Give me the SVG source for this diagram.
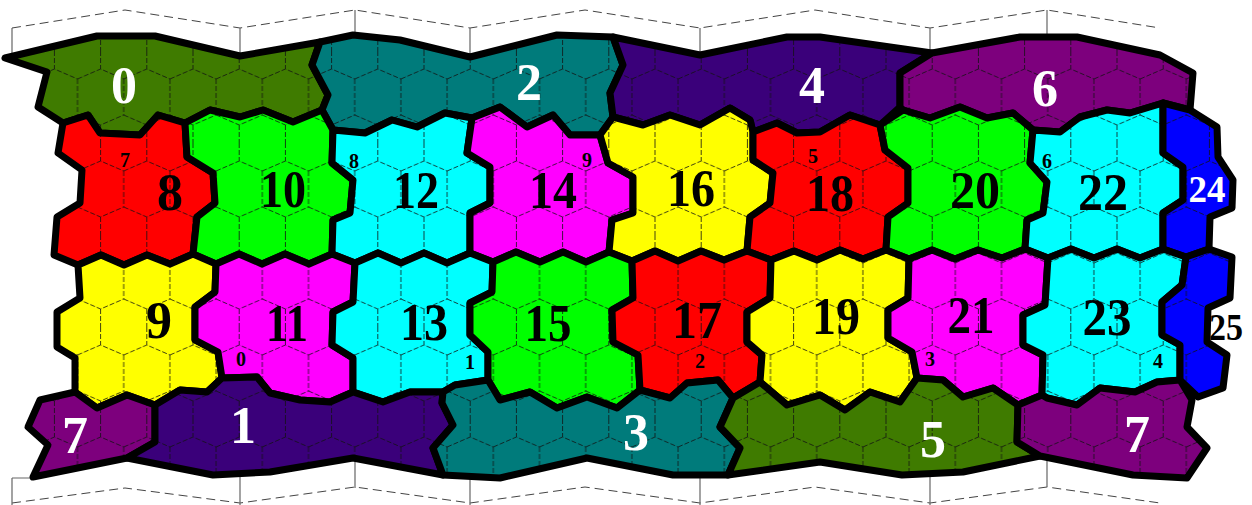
<svg xmlns="http://www.w3.org/2000/svg" xmlns:xlink="http://www.w3.org/1999/xlink" width="1252" height="505" viewBox="0 0 1252 505">
<style>
.b{fill:none;stroke:#000;stroke-width:7;stroke-linejoin:round}
.h{fill:url(#hex)}
.red{fill:#ff0000}.grn{fill:#00ff00}.cya{fill:#00ffff}.mag{fill:#ff00ff}.yel{fill:#ffff00}.blu{fill:#0000ff}
.olv{fill:#3f7b00}.tea{fill:#007b7b}.ind{fill:#3a007a}.pur{fill:#7d007d}
.L{font-family:"Liberation Serif","Times New Roman",serif;font-weight:bold;text-anchor:middle;fill:#000}
.big{font-size:52px}.mid{font-size:38px}.sm{font-size:20px}.w{fill:#fff}
.fd{fill:none;stroke:#444;stroke-width:1;stroke-dasharray:9 5}
.fv{fill:none;stroke:#666;stroke-width:1.2}
</style>
<defs>
<pattern id="hex" patternUnits="userSpaceOnUse" x="77.5" y="235" width="46.2" height="92">
<path d="M23.1,0V18M0,28L23.1,18L46.2,28M0,28V64M46.2,28V64M0,64L23.1,74L46.2,64M23.1,74V92" fill="none" stroke="#111" stroke-width="0.8" stroke-dasharray="5 2"/>
</pattern>
<polygon id="s0" points="5,58 97,36 155,36 240,56 320,42 312,65 328,95 322,110 293,122 263,110 240,117 210,110 185,123 158,115 140,135 100,133 88,115 63,123 38,107 47,72"/>
<polygon id="s2" points="320,42 353,35 400,40 470,57 557,35 613,37 623,65 610,93 613,117 600,135 570,135 553,115 527,127 500,107 472,118 445,113 417,127 392,120 365,133 333,130 322,110 328,95 312,65"/>
<polygon id="s4" points="613,37 700,55 787,37 820,37 932,53 900,73 900,107 880,125 850,115 820,132 797,133 777,123 753,132 750,120 730,108 700,125 670,115 643,125 613,117 610,93 623,65"/>
<polygon id="s6" points="932,53 1020,37 1077,37 1160,55 1193,73 1190,110 1163,103 1130,113 1107,110 1080,117 1060,132 1033,130 1013,113 987,118 960,107 930,118 903,110 900,107 900,73"/>
<polygon id="s8" points="63,123 88,115 100,133 140,135 158,115 185,123 187,157 213,173 215,203 197,217 193,254 170,264 147,255 124,265 101,255 78,265 54,255 57,217 80,203 82,170 58,153"/>
<polygon id="s10" points="185,123 210,110 240,117 263,110 293,122 322,110 333,130 332,163 353,180 350,213 333,220 332,254 309,264 285,254 262,264 239,254 216,264 193,254 197,217 215,203 213,173 187,157"/>
<polygon id="s12" points="333,130 365,133 392,120 417,127 445,113 472,118 467,153 490,167 490,203 470,213 470,253 447,263 424,253 401,263 378,253 355,263 332,254 333,220 350,213 353,180 332,163"/>
<polygon id="s14" points="472,118 500,107 527,127 553,115 570,135 600,135 608,163 633,177 633,213 612,220 609,252 586,262 563,252 540,262 516,252 493,262 470,253 470,213 490,203 490,167 467,153"/>
<polygon id="s16" points="600,135 613,117 643,125 670,115 700,125 730,108 750,120 753,132 753,160 773,173 770,203 750,217 747,251 724,260 701,251 678,261 655,251 632,261 609,252 612,220 633,213 633,177 608,163"/>
<polygon id="s18" points="753,132 777,123 797,133 820,132 850,115 880,125 885,150 908,168 908,203 888,217 886,250 863,259 840,250 817,260 794,251 771,260 747,251 750,217 770,203 773,173 753,160"/>
<polygon id="s20" points="880,125 903,110 930,118 960,107 987,118 1013,113 1033,130 1030,163 1047,182 1043,213 1027,220 1025,249 1002,258 978,250 955,259 932,250 909,259 886,250 888,217 908,203 908,168 885,150"/>
<polygon id="s22" points="1033,130 1060,132 1080,117 1107,110 1130,113 1163,103 1163,153 1183,167 1183,200 1163,213 1163,249 1140,258 1117,249 1094,258 1071,249 1048,258 1025,249 1027,220 1043,213 1047,182 1030,163"/>
<polygon id="s24" points="1163,103 1190,110 1217,127 1218,157 1233,180 1232,208 1210,217 1209,249 1186,257 1163,249 1163,213 1183,200 1183,167 1163,153"/>
<polygon id="s9" points="78,265 101,255 124,265 147,255 170,264 193,254 216,264 215,292 195,307 195,340 218,352 222,378 207,392 180,390 155,405 127,395 97,408 75,392 75,358 57,347 57,312 80,298"/>
<polygon id="s11" points="216,264 239,254 262,264 285,254 309,264 332,254 355,263 353,302 333,312 332,345 353,358 353,392 330,402 300,400 270,393 257,377 222,378 218,352 195,340 195,307 215,292"/>
<polygon id="s13" points="355,263 378,253 401,263 424,253 447,263 470,253 493,262 492,292 470,303 470,335 488,352 488,380 455,385 443,392 410,392 383,402 353,392 353,358 332,345 333,312 353,302"/>
<polygon id="s15" points="493,262 516,252 540,262 563,252 586,262 609,252 632,261 633,298 612,310 613,342 638,355 640,390 617,408 587,397 557,408 530,392 500,400 488,380 488,352 470,335 470,303 492,292"/>
<polygon id="s17" points="632,261 655,251 678,261 701,251 724,260 747,251 771,260 770,298 747,312 747,342 762,355 760,382 733,398 718,380 687,383 670,398 640,390 638,355 613,342 612,310 633,298"/>
<polygon id="s19" points="771,260 794,251 817,260 840,250 863,259 886,250 909,259 908,298 888,310 888,338 912,352 917,378 900,402 870,392 845,410 820,395 787,405 760,382 762,355 747,342 747,312 770,298"/>
<polygon id="s21" points="909,259 932,250 955,259 978,250 1002,258 1025,249 1048,258 1045,305 1023,315 1023,345 1043,355 1042,395 1018,405 993,388 963,397 943,380 917,378 912,352 888,338 888,310 908,298"/>
<polygon id="s23" points="1048,258 1071,249 1094,258 1117,249 1140,258 1163,249 1186,257 1182,285 1162,302 1162,335 1180,345 1180,380 1157,382 1135,392 1100,388 1077,405 1047,398 1042,395 1043,355 1023,345 1023,315 1045,305"/>
<polygon id="s25" points="1186,257 1209,249 1232,257 1230,298 1208,308 1207,342 1227,355 1223,388 1198,397 1180,380 1180,345 1162,335 1162,302 1182,285"/>
<polygon id="s7a" points="40,400 75,392 97,408 127,395 155,405 155,442 127,458 33,477 48,445 28,427"/>
<polygon id="s1" points="155,405 180,390 207,392 222,378 257,377 270,393 300,400 330,402 353,392 383,402 410,392 443,392 442,403 453,425 433,448 443,475 353,458 270,472 213,475 127,458 155,442"/>
<polygon id="s3" points="443,392 455,385 488,380 500,400 530,392 557,408 587,397 617,408 640,390 670,398 687,383 718,380 733,398 720,427 740,448 728,475 673,475 587,458 500,478 443,475 433,448 453,425 442,403"/>
<polygon id="s5" points="733,398 760,382 787,405 820,395 845,410 870,392 900,402 917,378 943,380 963,397 993,388 1018,405 1017,442 1040,456 963,472 902,475 820,462 728,475 740,448 720,427"/>
<polygon id="s7b" points="1018,405 1042,395 1047,398 1077,405 1100,388 1135,392 1157,382 1180,380 1192,400 1187,427 1207,448 1187,478 1133,475 1040,456 1017,442"/>
</defs>
<rect width="1252" height="505" fill="#fff"/>
<g id="frame">
<polyline class="fd" points="12,28 125,10 240,28 355,10 470,28 585,10 700,28 815,10 930,28 1047,10 1160,28"/>
<polyline class="fd" points="12,503 125,488 240,503 355,487 470,503 585,487 700,503 815,487 930,503 1047,487 1160,503"/>
<path class="fv" d="M12,28V56M240,28V56M355,10V36M470,28V57M700,28V55M930,28V53M1047,10V37M12,478V505M12,478H33M240,475V505M355,460V488M470,478V505M700,475V505M930,475V505M1047,458V487"/>
</g>
<g id="connectors"></g>
<g id="n0"><use href="#s0" class="olv"/><use href="#s0" class="h"/><use href="#s0" class="b"/><text class="L big w" x="124" y="103">0</text></g>
<g id="n2"><use href="#s2" class="tea"/><use href="#s2" class="h"/><use href="#s2" class="b"/><text class="L big w" x="529" y="100">2</text></g>
<g id="n4"><use href="#s4" class="ind"/><use href="#s4" class="h"/><use href="#s4" class="b"/><text class="L big w" x="812" y="103">4</text></g>
<g id="n6"><use href="#s6" class="pur"/><use href="#s6" class="h"/><use href="#s6" class="b"/><text class="L big w" x="1045" y="106">6</text></g>
<g id="n8"><use href="#s8" class="red"/><use href="#s8" class="h"/><use href="#s8" class="b"/><text class="L big" x="170" y="210">8</text><text class="L sm" x="125" y="167">7</text></g>
<g id="n10"><use href="#s10" class="grn"/><use href="#s10" class="h"/><use href="#s10" class="b"/><text class="L big" x="283" y="207" textLength="46" lengthAdjust="spacingAndGlyphs">10</text></g>
<g id="n12"><use href="#s12" class="cya"/><use href="#s12" class="h"/><use href="#s12" class="b"/><text class="L big" x="416" y="208" textLength="46" lengthAdjust="spacingAndGlyphs">12</text><text class="L sm" x="354" y="168">8</text></g>
<g id="n14"><use href="#s14" class="mag"/><use href="#s14" class="h"/><use href="#s14" class="b"/><text class="L big" x="553" y="208" textLength="48" lengthAdjust="spacingAndGlyphs">14</text><text class="L sm" x="587" y="167">9</text></g>
<g id="n16"><use href="#s16" class="yel"/><use href="#s16" class="h"/><use href="#s16" class="b"/><text class="L big" x="691" y="206" textLength="48" lengthAdjust="spacingAndGlyphs">16</text></g>
<g id="n18"><use href="#s18" class="red"/><use href="#s18" class="h"/><use href="#s18" class="b"/><text class="L big" x="830" y="211" textLength="48" lengthAdjust="spacingAndGlyphs">18</text><text class="L sm" x="813" y="163">5</text></g>
<g id="n20"><use href="#s20" class="grn"/><use href="#s20" class="h"/><use href="#s20" class="b"/><text class="L big" x="975" y="208" textLength="50" lengthAdjust="spacingAndGlyphs">20</text></g>
<g id="n22"><use href="#s22" class="cya"/><use href="#s22" class="h"/><use href="#s22" class="b"/><text class="L big" x="1103" y="210" textLength="50" lengthAdjust="spacingAndGlyphs">22</text><text class="L sm" x="1047" y="168">6</text></g>
<g id="n24"><use href="#s24" class="blu"/><use href="#s24" class="h"/><use href="#s24" class="b"/><text class="L mid w" x="1207" y="202" textLength="37" lengthAdjust="spacingAndGlyphs">24</text></g>
<g id="n9"><use href="#s9" class="yel"/><use href="#s9" class="h"/><use href="#s9" class="b"/><text class="L big" x="159" y="338">9</text></g>
<g id="n11"><use href="#s11" class="mag"/><use href="#s11" class="h"/><use href="#s11" class="b"/><text class="L big" x="287" y="341" textLength="42" lengthAdjust="spacingAndGlyphs">11</text><text class="L sm" x="241" y="366">0</text></g>
<g id="n13"><use href="#s13" class="cya"/><use href="#s13" class="h"/><use href="#s13" class="b"/><text class="L big" x="424" y="340" textLength="48" lengthAdjust="spacingAndGlyphs">13</text><text class="L sm" x="470" y="369">1</text></g>
<g id="n15"><use href="#s15" class="grn"/><use href="#s15" class="h"/><use href="#s15" class="b"/><text class="L big" x="548" y="341" textLength="47" lengthAdjust="spacingAndGlyphs">15</text></g>
<g id="n17"><use href="#s17" class="red"/><use href="#s17" class="h"/><use href="#s17" class="b"/><text class="L big" x="697" y="338" textLength="50" lengthAdjust="spacingAndGlyphs">17</text><text class="L sm" x="700" y="368">2</text></g>
<g id="n19"><use href="#s19" class="yel"/><use href="#s19" class="h"/><use href="#s19" class="b"/><text class="L big" x="836" y="334" textLength="48" lengthAdjust="spacingAndGlyphs">19</text></g>
<g id="n21"><use href="#s21" class="mag"/><use href="#s21" class="h"/><use href="#s21" class="b"/><text class="L big" x="971" y="333" textLength="47" lengthAdjust="spacingAndGlyphs">21</text><text class="L sm" x="930" y="366">3</text></g>
<g id="n23"><use href="#s23" class="cya"/><use href="#s23" class="h"/><use href="#s23" class="b"/><text class="L big" x="1107" y="335" textLength="49" lengthAdjust="spacingAndGlyphs">23</text><text class="L sm" x="1158" y="368">4</text></g>
<g id="n25"><use href="#s25" class="blu"/><use href="#s25" class="h"/><use href="#s25" class="b"/><text class="L mid" x="1226" y="340" textLength="34" lengthAdjust="spacingAndGlyphs">25</text></g>
<g id="n7a"><use href="#s7a" class="pur"/><use href="#s7a" class="h"/><use href="#s7a" class="b"/><text class="L big w" x="75" y="453">7</text></g>
<g id="n1"><use href="#s1" class="ind"/><use href="#s1" class="h"/><use href="#s1" class="b"/><text class="L big w" x="243" y="443">1</text></g>
<g id="n3"><use href="#s3" class="tea"/><use href="#s3" class="h"/><use href="#s3" class="b"/><text class="L big w" x="636" y="450">3</text></g>
<g id="n5"><use href="#s5" class="olv"/><use href="#s5" class="h"/><use href="#s5" class="b"/><text class="L big w" x="933" y="457">5</text></g>
<g id="n7b"><use href="#s7b" class="pur"/><use href="#s7b" class="h"/><use href="#s7b" class="b"/><text class="L big w" x="1137" y="452">7</text></g>
</svg>
